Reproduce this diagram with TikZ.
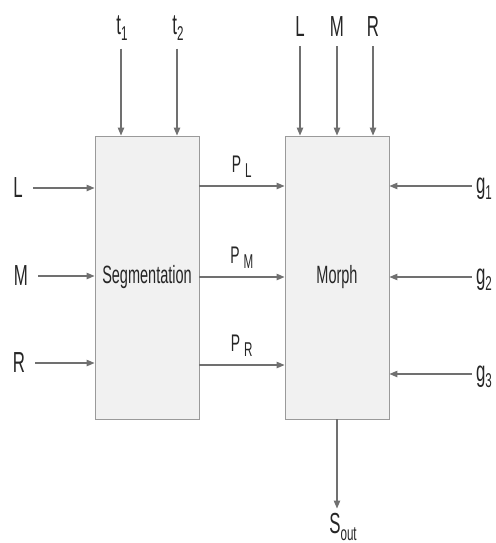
\documentclass[tikz,border=0pt]{standalone}
\usepackage{fontspec}
\setmainfont[FakeStretch=0.58]{Liberation Sans}
\usetikzlibrary{arrows.meta,positioning,calc,shadows}
\definecolor{ink}    {HTML}{262626}
\definecolor{wire}   {HTML}{707070}
\definecolor{boxbg}  {HTML}{F1F1F1}
\definecolor{boxline}{HTML}{9A9A9A}
\newcommand{\idx}[1]{\raisebox{-0.4ex}{\fontsize{20}{20}\selectfont #1}}
\tikzset{
  blockbox/.style={
    rectangle, draw=boxline, line width=0.9pt, fill=boxbg,
    text=ink, font=\fontsize{25}{25}\selectfont,
    minimum width=104pt, minimum height=283pt, inner sep=0pt,
    drop shadow={shadow xshift=1pt, shadow yshift=-1pt, fill=black, opacity=0.12}
  },
  sig/.style={text=ink, font=\fontsize{29}{29}\selectfont, inner sep=0pt},
  plab/.style={text=ink, font=\fontsize{24}{24}\selectfont, inner sep=0pt},
  wirearrow/.style={
    -{Triangle[length=8pt, width=6.5pt]}, line width=1.1pt, draw=wire
  }
}

\begin{document}
\begin{tikzpicture}[x=1pt, y=-1pt]
    \useasboundingbox (0,0) rectangle (495,543);
    % blocks
    \node[blockbox] (seg) at (147,277.5) {Segmentation};
    \node[blockbox] (morph) at (337,277.5) {Morph};

    % inputs of segmentation
    \node[sig] (inL) at (18,188) {L};
    \node[sig] (inM) at (21,276) {M};
    \node[sig] (inR) at (19,363) {R};
    \draw[wirearrow] ($(inL.east)+(10,0)$) -- (inL -| seg.west);
    \draw[wirearrow] ($(inM.east)+(10,0)$) -- (inM -| seg.west);
    \draw[wirearrow] ($(inR.east)+(10,0)$) -- (inR -| seg.west);

    % thresholds
    \node[sig] (t1) at (122,28) {t\idx{1}};
    \node[sig] (t2) at (178,28) {t\idx{2}};
    \coordinate (t1out) at ($(t1.south)+(-1,8)$);
    \coordinate (t2out) at ($(t2.south)+(-1,8)$);
    \draw[wirearrow] (t1out) -- (t1out |- seg.north);
    \draw[wirearrow] (t2out) -- (t2out |- seg.north);

    % parts
    \coordinate (pl) at (199,186);
    \coordinate (pm) at (199,277);
    \coordinate (pr) at (199,365);
    \draw[wirearrow] (pl) -- (pl -| morph.west) node[midway, above=8pt, plab] {P\,\idx{L}};
    \draw[wirearrow] (pm) -- (pm -| morph.west) node[midway, above=8pt, plab] {P\,\idx{M}};
    \draw[wirearrow] (pr) -- (pr -| morph.west) node[midway, above=8pt, plab] {P\,\idx{R}};

    % inputs of morph
    \node[sig] (mL) at (300,27) {L};
    \node[sig] (mM) at (337,27) {M};
    \node[sig] (mR) at (373,27) {R};
    \draw[wirearrow] ($(mL.south)+(0,9)$) -- (mL |- morph.north);
    \draw[wirearrow] ($(mM.south)+(0,9)$) -- (mM |- morph.north);
    \draw[wirearrow] ($(mR.south)+(0,9)$) -- (mR |- morph.north);

    % weights
    \node[sig] (g1) at (484,189) {g\idx{1}};
    \node[sig] (g2) at (484,280) {g\idx{2}};
    \node[sig] (g3) at (484,377) {g\idx{3}};
    \coordinate (g1in) at ($(g1.west)+(-4,-3)$);
    \coordinate (g2in) at ($(g2.west)+(-4,-3)$);
    \coordinate (g3in) at ($(g3.west)+(-4,-3)$);
    \draw[wirearrow] (g1in) -- (g1in -| morph.east);
    \draw[wirearrow] (g2in) -- (g2in -| morph.east);
    \draw[wirearrow] (g3in) -- (g3in -| morph.east);

    % output
    \node[sig] (sout) at (343,527) {S\idx{out}};
    \coordinate (souttop) at ($(sout.north)+(-4,-5)$);
    \draw[wirearrow] (morph.south) -- (souttop -| morph.south);
  \end{tikzpicture}
\end{document}
